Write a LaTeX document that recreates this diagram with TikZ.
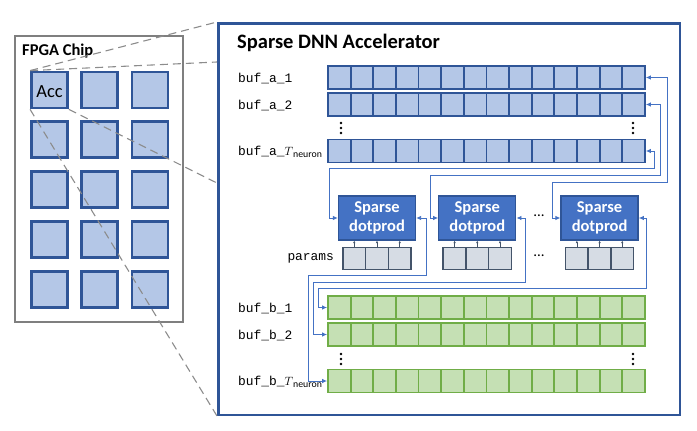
\documentclass[tikz,border=0pt]{standalone}
\usepackage{fontspec}
\setmainfont{Carlito}
\setmonofont{Liberation Mono}
\usetikzlibrary{arrows.meta, positioning}

\definecolor{accdark}{HTML}{2F5597}
\definecolor{accfill}{HTML}{B4C7E7}
\definecolor{accmid}{HTML}{4472C4}
\definecolor{outfill}{HTML}{C5E0B4}
\definecolor{outdark}{HTML}{70AD47}
\definecolor{parfill}{HTML}{D6DCE4}
\definecolor{pardark}{HTML}{44546A}
\definecolor{chipgray}{HTML}{7F7F7F}
\definecolor{zoomgray}{HTML}{8C8C8C}

\begin{document}
\begin{tikzpicture}[x=1pt, y=-1pt]

  % \tikzstyle{cell} = [rectangle, draw, minimum size=23pt];

  \tikzstyle{chip}     = [rectangle, draw=chipgray, line width=2pt, minimum width=168pt, minimum height=286pt];
  \tikzstyle{pe}       = [rectangle, draw=accdark, fill=accfill, line width=2.8pt, minimum size=36pt, inner sep=0pt];
  \tikzstyle{accbox}   = [rectangle, draw=accdark, line width=2.5pt, minimum width=461.5pt, minimum height=391.5pt];
  \tikzstyle{acell}    = [rectangle, draw=accdark, fill=accfill, line width=1.8pt, minimum width=22.64pt, minimum height=23pt, inner sep=0pt];
  \tikzstyle{bcell}    = [acell, draw=outdark, fill=outfill];
  \tikzstyle{pcell}    = [rectangle, draw=pardark, fill=parfill, line width=1.6pt, minimum width=22.7pt, minimum height=22pt, inner sep=0pt];
  \tikzstyle{dotprod}  = [rectangle, draw=accdark, fill=accmid, line width=1.3pt, minimum width=77pt, minimum height=44pt, inner sep=0pt,
                          text=white, align=center, font={\bfseries\fontsize{16.5}{19.5}\selectfont}];
  \tikzstyle{bufname}  = [inner sep=0pt, font={\ttfamily\fontsize{12.9}{14}\selectfont}];
  \tikzstyle{wire}     = [draw=accmid, line width=0.9pt, {Latex[length=5pt,width=4.5pt]}-{Latex[length=5pt,width=4.5pt]}];
  \tikzstyle{parrow}   = [draw=pardark, line width=0.6pt, -{Latex[length=2.5pt,width=2.5pt]}];
  \tikzstyle{zoomline} = [draw=zoomgray, line width=1.1pt, dash pattern=on 8pt off 5pt];

  \useasboundingbox (0,0) rectangle (697,431);

  % FPGA chip with its grid of accelerators
  \node [chip] (fpga) at (99,179) {};
  \node [anchor=base west, inner sep=0pt, font={\bfseries\fontsize{16.5}{18}\selectfont}] (fpga-label) at (22,56) {FPGA Chip};

  \foreach \r in {0,...,4}
    \foreach \c in {0,1,2}
      \node [pe] (pe-\r-\c) at (49.5+\c*50.2, 90+\r*49.8) {};
  \node [anchor=base, inner sep=0pt, font={\fontsize{18.5}{20}\selectfont}] (acc-label) at (49.5,97) {Acc};

  % accelerator box
  \node [accbox] (accel) at (449,219) {};
  \node [anchor=base west, inner sep=0pt, font={\bfseries\fontsize{20.5}{24}\selectfont}] (accel-label) at (237,48) {Sparse DNN Accelerator};

  \coordinate (zoomA) at (217,62);
  \coordinate (zoomB) at (217,183);
  \draw[zoomline] (pe-0-0.north west) -- (accel.north west);
  \draw[zoomline] (pe-0-0.north west) -- (zoomA);
  \draw[zoomline] (pe-0-0.south east) -- (zoomB);
  \draw[zoomline] (pe-0-0.south west) -- (accel.south west);

  % input buffers
  \foreach \row/\y in {a1/77.5, a2/104.5, aT/151}
    \foreach \i in {0,...,13}
      \node [acell] (buf\row-\i) at (339.3+\i*22.64, \y) {};

  % output buffers
  \foreach \row/\y in {b1/307.5, b2/334.5, bT/381}
    \foreach \i in {0,...,13}
      \node [bcell] (buf\row-\i) at (339.3+\i*22.64, \y) {};

  \node [bufname, anchor=base west] (name-a1) at (238,82)    {buf\_a\_1};
  \node [bufname, anchor=base west] (name-a2) at (238,109)   {buf\_a\_2};
  \node [bufname, anchor=base west] (name-aT) at (238,155.5) {buf\_a\_$T$\raisebox{-1.5pt}{\rmfamily\fontsize{9.8}{10}\selectfont neuron}};
  \node [bufname, anchor=base west] (name-b1) at (238,312)   {buf\_b\_1};
  \node [bufname, anchor=base west] (name-b2) at (238,339)   {buf\_b\_2};
  \node [bufname, anchor=base west] (name-bT) at (238,385.5) {buf\_b\_$T$\raisebox{-1.5pt}{\rmfamily\fontsize{9.8}{10}\selectfont neuron}};

  % vertical dots between the rows
  \foreach \x/\y in {341/128, 633/128, 341/359, 633/359}
    \foreach \k in {-1,0,1}
      \fill (\x, \y+\k*5) circle (1.3pt);

  % dot product units
  \node [dotprod]                    (dp1) at (377,218) {Sparse\\dotprod};
  \node [dotprod, right=22pt of dp1] (dp2)            {Sparse\\dotprod};
  \node [dotprod, right=44pt of dp2] (dp3)            {Sparse\\dotprod};

  \foreach \d in {1,2,3} {
    \node [pcell, below=6pt of dp\d]       (par\d-0) {};
    \node [pcell, left=-1.6pt of par\d-0]  (par\d-l) {};
    \node [pcell, right=-1.6pt of par\d-0] (par\d-r) {};
    \foreach \k in {l,0,r}
      \draw[parrow] (par\d-\k.north) -- (par\d-\k.north |- dp\d.south);
  }

  \node [bufname, left=8pt of par1-l] (params-label) {params};
  \node [font=\fontsize{15}{15}\selectfont] (dp-dots)  at (539,216) {...};
  \node [font=\fontsize{15}{15}\selectfont] (par-dots) at (539,256) {...};

  % buffers to units
  \draw[wire] (bufa1-13.east) -| (667,182) -| (552,218) -- (dp3.west);
  \draw[wire] (bufa2-13.east) -| (660,175) -| (430,218) -- (dp2.west);
  \draw[wire] (bufaT-13.east) -| (654,168) -| (329,218) -- (dp1.west);

  % units to buffers
  \draw[wire] (dp1.east) -| (426,275) -| (308,381)   -- (bufbT-0.west);
  \draw[wire] (dp2.east) -| (525,282) -| (313,334.5) -- (bufb2-0.west);
  \draw[wire] (dp3.east) -| (646,288) -| (318,307.5) -- (bufb1-0.west);

\end{tikzpicture}
\end{document}
